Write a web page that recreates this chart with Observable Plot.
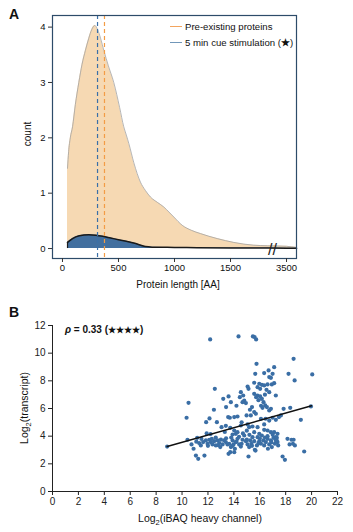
<!DOCTYPE html>
<html><head><meta charset="utf-8">
<script src="https://cdn.jsdelivr.net/npm/d3@7"></script>
<script src="https://cdn.jsdelivr.net/npm/@observablehq/plot@0.6"></script>
<style>
body{margin:0;background:#fff;font-family:"Liberation Sans",Arial,sans-serif;}
#wrap{position:relative;width:353px;height:532px;overflow:hidden;background:#fff;}
.panel{position:absolute;left:0;}
.tag{position:absolute;font-weight:bold;font-size:14px;color:#111;}
.leg{position:absolute;font-size:9.6px;color:#111;white-space:nowrap;line-height:12px;}
.leg i{display:inline-block;width:12px;height:0;border-top:1.3px solid;vertical-align:middle;margin-right:3px;position:relative;top:-1px;}
</style></head><body><div id="wrap">
<div id="a" class="panel" style="top:0"></div>
<div id="b" class="panel" style="top:300px"></div>
<div class="tag" style="left:9px;top:6px">A</div>
<div class="tag" style="left:9px;top:304px">B</div>
<div class="leg" style="left:170px;top:21px"><i style="border-color:#f3a55f"></i>Pre-existing proteins</div>
<div class="leg" style="left:170px;top:37px"><i style="border-color:#7197b9"></i>5 min cue stimulation (<b>★</b>)</div>
</div>
<script>
// ---------- Panel A data ----------
const preLen   = [45, 55, 70, 90, 115, 146, 175, 205, 235, 260, 289, 315, 340, 369, 410, 458, 510, 547, 570, 592, 637, 696, 740, 786, 850, 905, 950, 994, 1069, 1150, 1232, 1381, 1530, 1708, 1830, 3500, 3590];
const preCount = [1.45, 1.75, 2.0, 2.2, 2.6, 3.0, 3.33, 3.58, 3.8, 3.95, 4.03, 3.95, 3.8, 3.58, 3.3, 3.0, 2.55, 2.2, 2.05, 1.9, 1.55, 1.2, 1.05, 0.93, 0.83, 0.75, 0.66, 0.57, 0.42, 0.33, 0.27, 0.18, 0.11, 0.06, 0.05, 0.04, 0.02];
const cueLen   = [45, 90, 150, 235, 300, 360, 430, 500, 570, 636, 700, 740, 800, 1000, 1200, 1500, 1830, 3500, 3590];
const cueCount = [0.11, 0.18, 0.23, 0.25, 0.24, 0.22, 0.19, 0.16, 0.13, 0.10, 0.06, 0.035, 0.025, 0.02, 0.015, 0.01, 0.008, 0.005, 0.004];
const medianPre = 375;
const medianCue = 313;
const xTicksA = [0, 500, 1000, 1500, 3500];
const yTicksA = [0, 1, 2, 3, 4];
const breakAt = 1875;     // where the axis is cut
const breakGap = 1500;    // amount of axis removed

// ---------- Panel B data ----------
const iBAQ = [12.17,14.36,15.47,15.6,15.72,15.75,18.61,17.11,16.68,16.99,16.73,16.86,15.65,16.34,18.22,20.05,18.69,15.57,15.96,16.16,
15.83,16.34,16.03,16.6,16.52,16.93,16.73,17.11,17.24,15.06,15.13,12.53,14.54,14.72,14.46,14.8,14.93,14.67,15.57,15.72,
15.83,16.03,16.16,16.29,16.42,16.55,16.73,16.86,16.21,13.18,13.59,13.77,10.5,12.46,15.24,15.57,15.7,15.31,14.98,14.28,
14.03,13.56,13.69,17.84,18.35,17.48,17.63,19.17,19.95,10.35,12.12,11.86,12.69,13.05,13.38,13.72,14.03,14.15,13.9,14.28,
14.54,15.06,15.18,15.44,15.83,16.34,16.09,16.45,16.73,16.99,17.24,15.57,15.96,16.34,16.6,16.86,17.11,17.37,17.24,
10.42,10.73,10.89,11.17,11.32,11.45,11.63,11.84,11.97,12.1,12.22,12.35,12.48,12.61,12.74,12.87,12.95,13.13,13.25,13.38,
13.51,13.64,13.72,13.77,13.9,13.97,14.08,14.15,14.28,14.41,14.54,14.67,14.8,14.93,15.06,15.18,15.26,15.36,15.44,15.57,
15.62,15.78,15.83,15.96,16.09,16.16,16.27,16.34,16.47,16.6,16.73,16.86,16.93,17.06,17.17,17.24,17.32,17.37,17.42,
18.14,18.3,18.45,18.56,18.61,18.71,
11.07,11.25,11.73,13.59,14.03,15.13,15.67,16.63,17.76,17.94,19.43,8.85,
12.3,12.6,13.0,13.4,13.8,14.2,14.6,15.0,15.4,15.9,16.4,16.9,17.3,12.8,13.9,11.5,11.9,12.2,12.0,14.4,15.2,16.0,16.6,17.0,11.1,
15.9,16.4,16.1,15.4,14.2,13.4,14.6,15.0,14.7,13.3];
const transcript = [10.99,11.21,11.21,11.16,10.99,9.23,9.59,8.99,8.75,8.51,8.27,8.22,8.51,8.56,8.51,8.46,8.03,7.86,7.79,7.71,
7.54,7.67,7.42,7.74,7.35,7.74,7.18,7.83,6.94,7.59,7.42,7.42,7.18,6.94,6.82,6.58,6.39,6.46,7.06,6.82,
6.94,6.87,6.7,6.46,6.22,6.1,5.86,5.98,6.05,6.7,6.87,6.46,6.41,5.91,5.91,5.74,5.62,5.5,5.5,5.42,
5.38,5.38,5.33,5.98,6.05,5.38,5.5,5.18,6.15,5.33,5.28,5.01,5.01,4.65,4.75,4.6,4.41,4.17,4.12,4.29,
4.77,4.85,4.65,4.7,4.65,4.85,5.26,5.26,5.13,5.33,5.18,4.29,4.17,4.46,4.41,4.29,4.29,4.17,3.93,
3.74,3.4,3.09,3.88,3.5,3.33,3.57,3.69,3.45,3.74,3.57,3.4,3.64,3.33,3.69,3.5,3.21,3.4,3.69,3.57,
3.4,3.45,2.84,3.21,3.69,3.4,3.09,3.57,3.81,3.4,3.25,3.74,4.05,3.64,3.4,3.21,3.69,3.45,3.93,3.64,
3.01,3.33,3.93,3.64,3.45,4.05,3.69,3.33,3.57,3.81,3.4,3.69,3.21,3.88,3.45,3.69,3.88,3.57,3.33,
3.81,3.4,3.74,3.45,3.74,3.33,
2.6,2.36,2.6,2.72,2.84,2.53,2.96,3.09,2.53,2.29,2.89,3.25,
3.8,3.9,3.75,3.85,3.9,3.6,3.45,3.75,3.3,3.5,3.9,3.55,3.7,3.35,3.3,3.8,4.2,4.15,3.3,3.95,4.1,3.85,4.0,4.1,3.6,
6.6,7.0,6.2,6.1,6.2,6.1,5.0,4.4,4.2,4.3];
const fitX = [8.85, 20.0];
const fitY = [3.25, 6.2];
const xTicksB = [0,2,4,6,8,10,12,14,16,18,20,22];
const yTicksB = [0,2,4,6,8,10,12];
const rhoValue = "0.33";
const rhoStars = "★★★★";

const FONT = '"Liberation Sans", Arial, Helvetica, sans-serif';

// ---------- Panel A ----------
const disp = a => a > breakAt ? a - breakGap : a;
const preData = preLen.map((l, i) => ({x: disp(l), y: preCount[i]}));
const cueData = cueLen.map((l, i) => ({x: disp(l), y: cueCount[i]}));
const xTickMap = new Map(xTicksA.map(t => [disp(t), String(t)]));

const svgA = Plot.plot({
  width: 353, height: 300,
  marginLeft: 52, marginRight: 57, marginTop: 15, marginBottom: 42,
  style: {fontFamily: FONT, fontSize: "9.5px", color: "#111", background: "transparent", overflow: "visible"},
  x: {domain: [-89, 2089]},
  y: {domain: [-0.18, 4.21]},
  marks: [
    Plot.areaY(preData, {x: "x", y: "y", fill: "#f6d9b3", curve: "monotone-x"}),
    Plot.line(preData, {x: "x", y: "y", stroke: "#a3a3a3", strokeWidth: 0.8, curve: "monotone-x"}),
    Plot.areaY(cueData, {x: "x", y: "y", fill: "#426f9f", curve: "monotone-x"}),
    Plot.ruleX([disp(cueLen[0])], {y1: 0, y2: cueCount[0], stroke: "#1c1c1c", strokeWidth: 1.2}),
    Plot.line(cueData, {x: "x", y: "y", stroke: "#1a1a1a", strokeWidth: 1.5, curve: "monotone-x"}),
    Plot.ruleX([disp(medianCue)], {stroke: "#3a6fa8", strokeWidth: 1.2, strokeDasharray: "4,3"}),
    Plot.ruleX([disp(medianPre)], {stroke: "#f39c45", strokeWidth: 1.2, strokeDasharray: "4,3"}),
    Plot.text([breakAt], {x: d => d, y: 0, text: () => "//", fontSize: 16, fill: "#222", dy: 1}),
    Plot.frame({stroke: "#2d4b69", strokeWidth: 1.2}),
    Plot.axisX({ticks: xTicksA.map(disp), tickFormat: d => xTickMap.get(d), tickSize: 4, tickPadding: 2, label: null, stroke: "#333"}),
    Plot.axisY({ticks: yTicksA, tickFormat: d => String(d), tickSize: 4, tickPadding: 3, label: null, stroke: "#333"})
  ]
});
document.getElementById("a").appendChild(svgA);
{
  const s = d3.select(svgA);
  s.append("text").attr("x", 178).attr("y", 288).attr("text-anchor", "middle")
    .attr("font-size", 10).attr("font-family", FONT).attr("fill", "#111").text("Protein length [AA]");
  s.append("text").attr("transform", "translate(31,134) rotate(-90)").attr("text-anchor", "middle")
    .attr("font-size", 10).attr("font-family", FONT).attr("fill", "#111").text("count");
}

// ---------- Panel B ----------
const scatter = iBAQ.map((x, i) => ({x, y: transcript[i]}));
const fit = fitX.map((x, i) => ({x, y: fitY[i]}));
const svgB = Plot.plot({
  width: 353, height: 232,
  marginLeft: 52, marginRight: 16, marginTop: 25, marginBottom: 41,
  style: {fontFamily: FONT, fontSize: "10px", color: "#222", background: "transparent", overflow: "visible"},
  x: {domain: [0, 22]},
  y: {domain: [0, 12]},
  marks: [
    Plot.ruleY([0], {stroke: "#222", strokeWidth: 1}),
    Plot.ruleX([0], {stroke: "#222", strokeWidth: 1}),
    Plot.axisX({ticks: xTicksB, tickSize: 4, tickPadding: 2, label: null, stroke: "#222"}),
    Plot.axisY({ticks: yTicksB, tickSize: 4, tickPadding: 3, label: null, stroke: "#222"}),
    Plot.dot(scatter, {x: "x", y: "y", r: 2.1, fill: "#3a6ea5", stroke: "none"}),
    Plot.line(fit, {x: "x", y: "y", stroke: "#111", strokeWidth: 1.4})
  ]
});
document.getElementById("b").appendChild(svgB);
{
  const s = d3.select(svgB);
  const r = s.append("text").attr("x", 65).attr("y", 32.5).attr("text-anchor", "start").attr("font-size", 10)
    .attr("font-weight", "bold").attr("font-family", FONT).attr("fill", "#111");
  r.append("tspan").attr("font-style", "italic").text("ρ");
  r.append("tspan").text(" = " + rhoValue + " (");
  r.append("tspan").attr("font-size", 8.5).text(rhoStars);
  r.append("tspan").text(")");

  const xl = s.append("text").attr("x", 200).attr("y", 222).attr("text-anchor", "middle")
    .attr("font-size", 10.5).attr("font-family", FONT).attr("fill", "#111");
  xl.append("tspan").text("Log");
  xl.append("tspan").attr("font-size", 7.5).attr("dy", 3).text("2");
  xl.append("tspan").attr("dy", -3).text("(iBAQ heavy channel)");

  const yl = s.append("text").attr("transform", "translate(28,108) rotate(-90)").attr("text-anchor", "middle")
    .attr("font-size", 10.5).attr("font-family", FONT).attr("fill", "#111");
  yl.append("tspan").text("Log");
  yl.append("tspan").attr("font-size", 7.5).attr("dy", 3).text("2");
  yl.append("tspan").attr("dy", -3).text("(transcript)");
}
</script>
</body></html>
